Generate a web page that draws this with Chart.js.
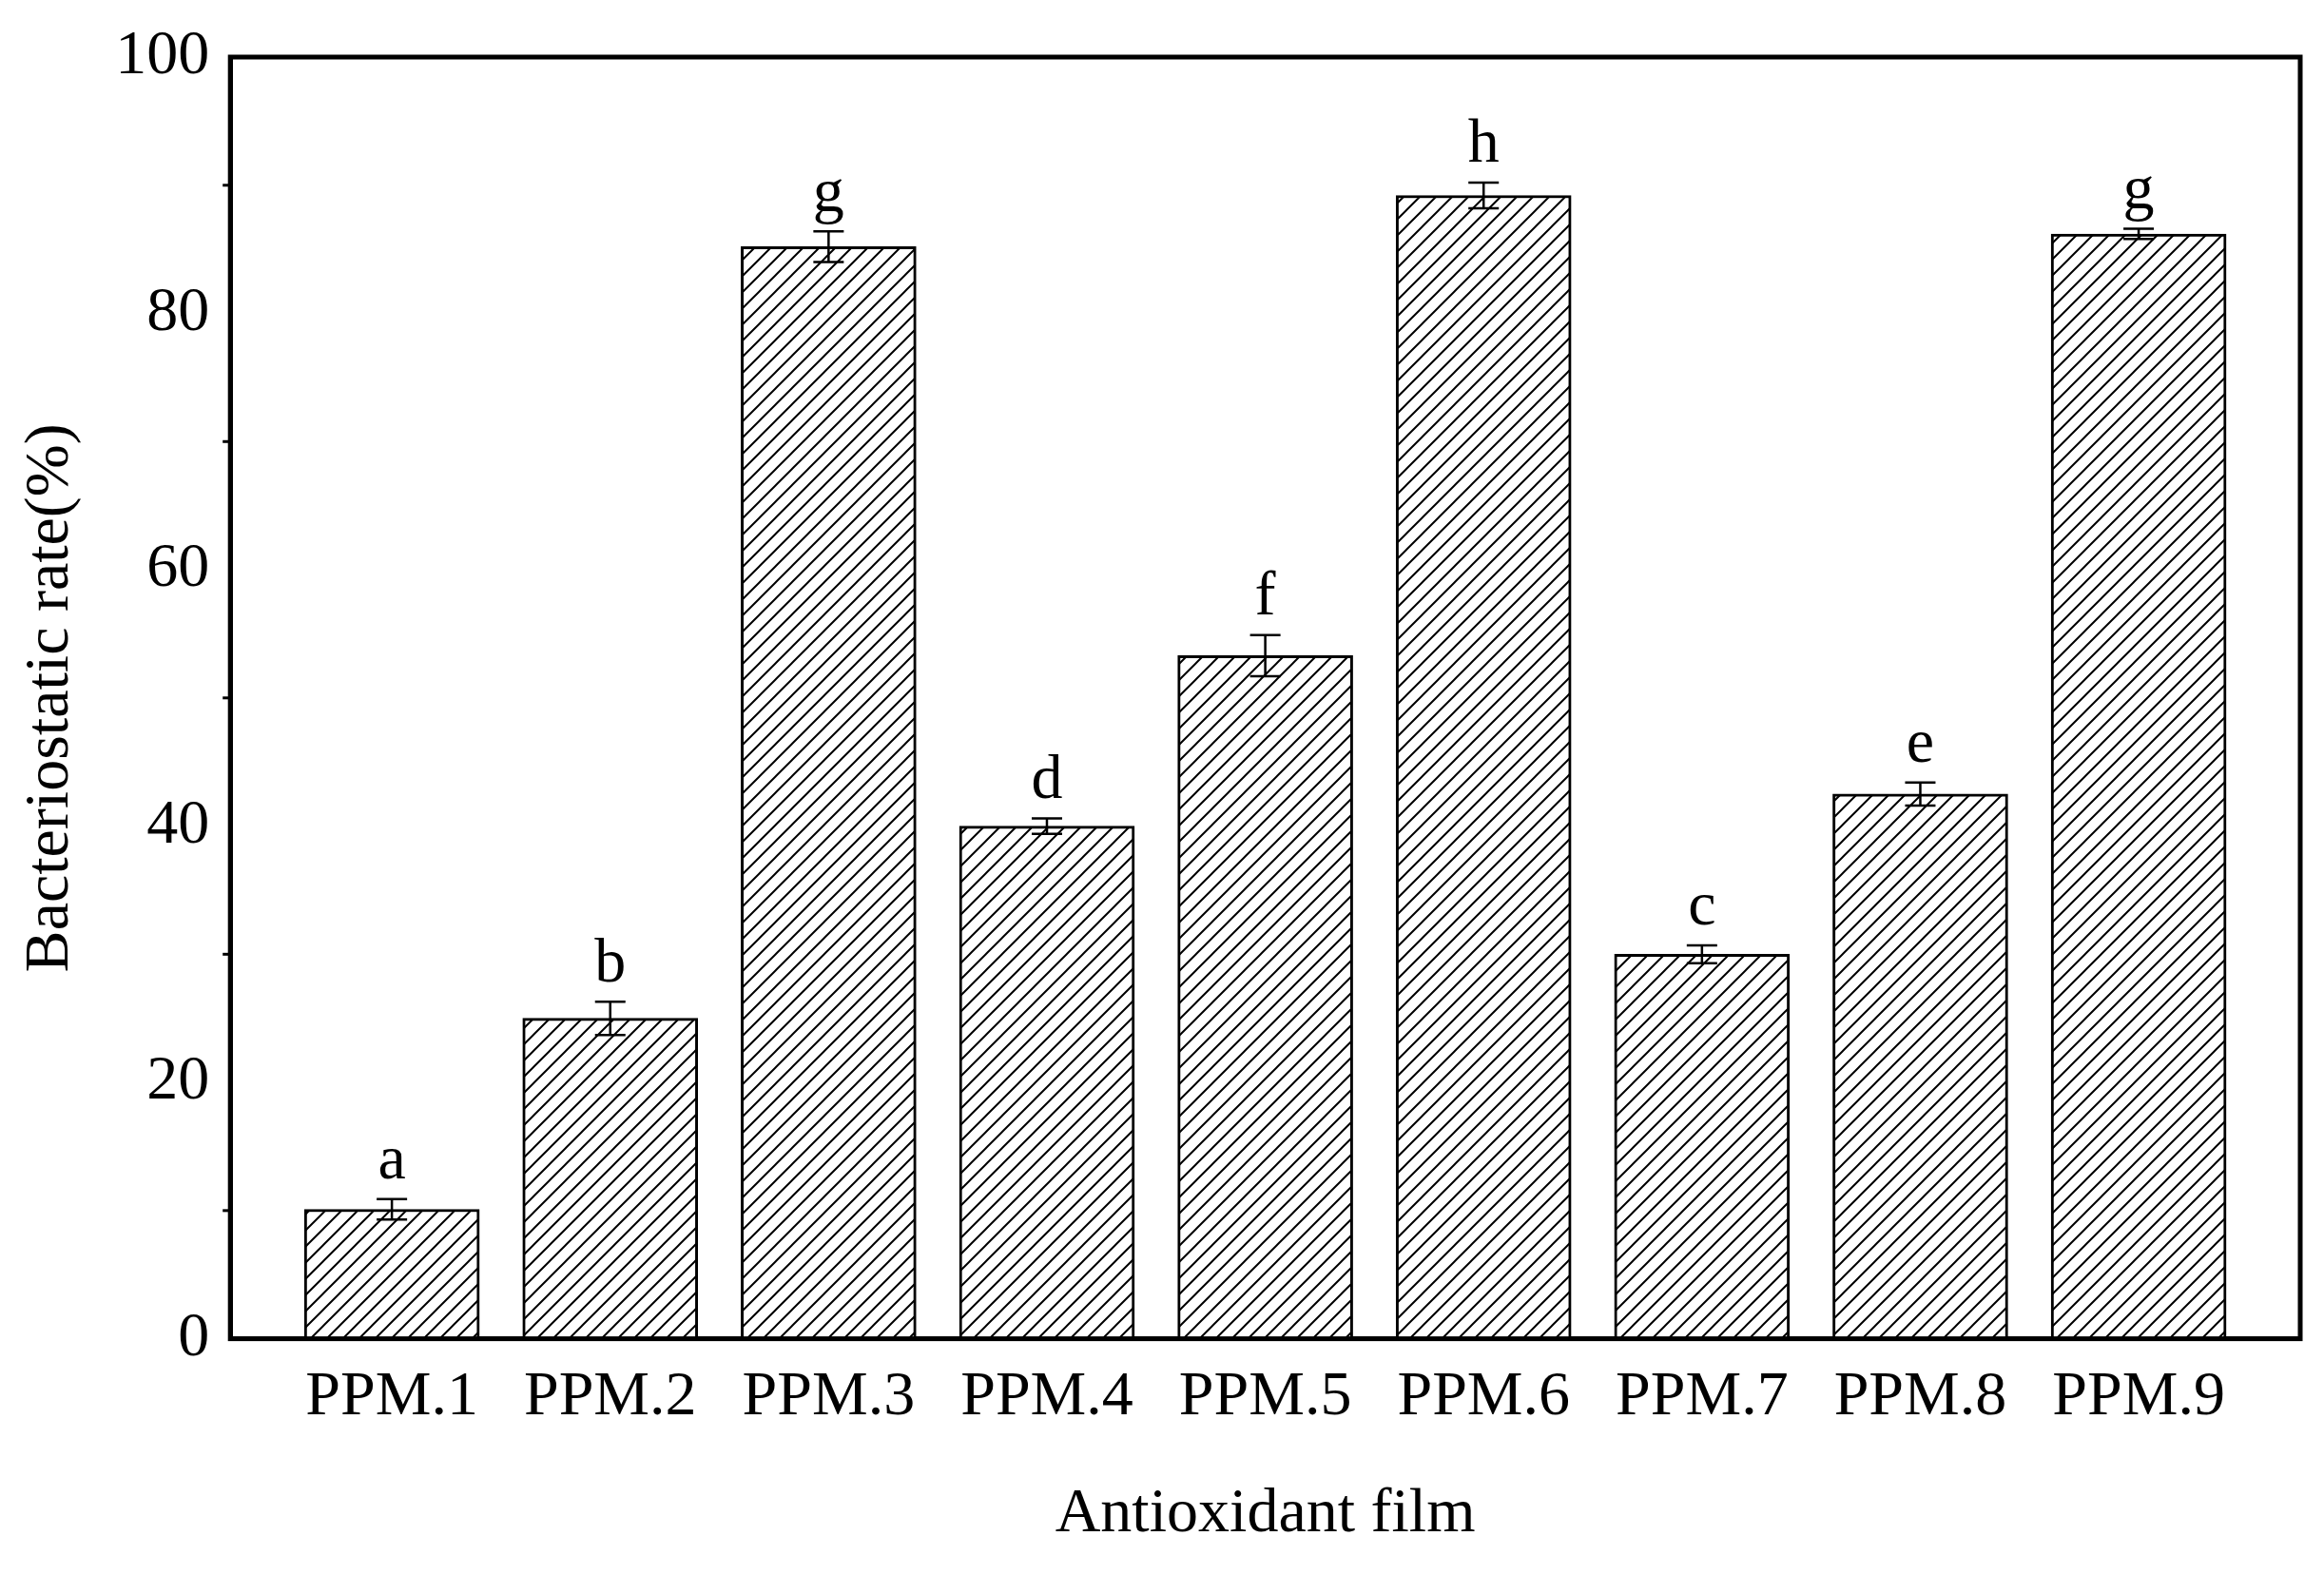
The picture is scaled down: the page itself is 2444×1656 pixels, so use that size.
<!DOCTYPE html>
<html lang="en">
<head>
<title>Bacteriostatic rate</title>
<script src="https://cdn.jsdelivr.net/npm/chart.js@4.4.0/dist/chart.umd.min.js"></script>
<style>
	html, body { margin:0; padding:0; background:#fff; }
	#wrap { width:2444px; height:1656px; }
</style>
</head>
<body>
<div id="wrap"><canvas id="chart"></canvas></div>
<script>
const films = ["PPM.1","PPM.2","PPM.3","PPM.4","PPM.5","PPM.6","PPM.7","PPM.8","PPM.9"];
const rates = [10.1, 25.0, 85.2, 40.0, 53.3, 89.2, 30.0, 42.5, 86.2];
const errors = [0.8, 1.3, 1.2, 0.6, 1.6, 1.0, 0.7, 0.9, 0.4];
const letters = ["a","b","g","d","f","h","c","e","g"];
const yTicks = [0, 20, 40, 60, 80, 100];

const FONT = "'Liberation Serif', 'DejaVu Serif', serif";

// diagonal hatch fill
function hatch() {
	const s = 17;
	const c = document.createElement('canvas');
	c.width = s; c.height = s;
	const g = c.getContext('2d');
	g.fillStyle = '#fff';
	g.fillRect(0, 0, s, s);
	g.strokeStyle = '#000';
	g.lineWidth = 2;
	g.beginPath();
	g.moveTo(-2, s + 2); g.lineTo(s + 2, -2);
	g.moveTo(-2, 2); g.lineTo(2, -2);
	g.moveTo(s - 2, s + 2); g.lineTo(s + 2, s - 2);
	g.stroke();
	return g.createPattern(c, 'repeat');
}

const extras = {
	id: 'extras',
	afterDatasetsDraw(chart) {
		const ctx = chart.ctx, x = chart.scales.x, y = chart.scales.y;
		const a = chart.chartArea;
		ctx.save();
		ctx.strokeStyle = '#000';
		ctx.fillStyle = '#000';
		ctx.lineWidth = 2.5;
		ctx.font = "66px " + FONT;
		ctx.textAlign = 'center';
		ctx.textBaseline = 'bottom';
		rates.forEach((v, i) => {
			const cx = x.getPixelForValue(i);
			const hi = y.getPixelForValue(v + errors[i]);
			const lo = y.getPixelForValue(v - errors[i]);
			ctx.beginPath();
			ctx.moveTo(cx, hi); ctx.lineTo(cx, lo);
			ctx.moveTo(cx - 16, hi); ctx.lineTo(cx + 16, hi);
			ctx.moveTo(cx - 16, lo); ctx.lineTo(cx + 16, lo);
			ctx.stroke();
			ctx.fillText(letters[i], cx, hi - 6);
		});
		// frame
		ctx.lineWidth = 5;
		ctx.strokeRect(a.left, a.top, a.right - a.left, a.bottom - a.top);
		// minor y ticks
		ctx.lineWidth = 3;
		for (let v = 10; v < 100; v += 20) {
			const py = y.getPixelForValue(v);
			ctx.beginPath();
			ctx.moveTo(a.left, py); ctx.lineTo(a.left - 8, py);
			ctx.stroke();
		}
		ctx.restore();
	}
};

new Chart(document.getElementById('chart'), {
	type: 'bar',
	data: {
		datasets: [{
			data: rates.map((v, i) => ({ x: i, y: v })),
			backgroundColor: hatch(),
			borderColor: '#000',
			borderWidth: 3,
			barThickness: 184
		}]
	},
	plugins: [extras],
	options: {
		responsive: true,
		maintainAspectRatio: false,
		animation: false,
		layout: { padding: { top: 60, right: 25, left: 10, bottom: 20 } },
		plugins: { legend: { display: false }, tooltip: { enabled: false } },
		scales: {
			x: {
				type: 'linear',
				min: -0.74, max: 8.74,
				offset: false,
				afterBuildTicks: s => { s.ticks = films.map((f, i) => ({ value: i })); },
				grid: { display: false, drawTicks: false },
				border: { color: '#000', width: 5 },
				ticks: { color: '#000', font: { family: FONT, size: 66 }, padding: 22, callback: v => films[v] },
				title: { display: true, text: 'Antioxidant film', color: '#000', font: { family: FONT, size: 66 }, padding: { top: 22 } }
			},
			y: {
				min: 0, max: 100,
				afterBuildTicks: s => { s.ticks = yTicks.map(v => ({ value: v })); },
				grid: { display: false, drawOnChartArea: false, drawTicks: true, tickLength: 14, tickWidth: 3, tickColor: '#000' },
				border: { color: '#000', width: 5 },
				ticks: { color: '#000', font: { family: FONT, size: 66 }, padding: 8 },
				title: { display: true, text: 'Bacteriostatic rate(%)', color: '#000', font: { family: FONT, size: 66 }, padding: { bottom: 20 } }
			}
		}
	}
});
</script>
</body>
</html>
